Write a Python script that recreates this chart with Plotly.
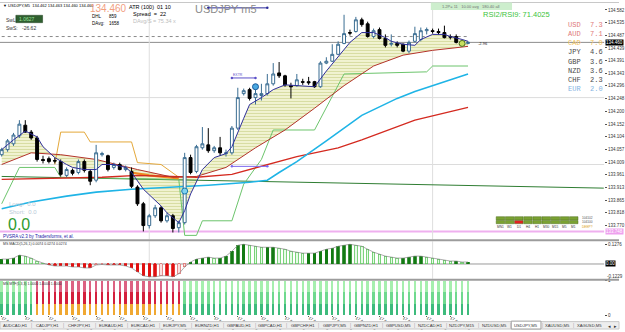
import plotly.graph_objects as go

W, H = 625, 332
def XP(px): return px / W
def YP(py): return 1 - py / H

# ---------------- data ----------------
candle_open = [134.037,134.056,134.078,134.108,134.148,134.122,134.100,134.019,134.022,134.015,
               134.011,133.959,133.978,133.970,134.011,133.974,133.941,134.037,134.033,133.989,
               134.000,133.981,133.974,133.915,133.852,133.770,133.807,133.837,133.788,133.807,
               133.762,133.781,134.026,133.974,134.063,134.074,134.052,134.063,134.041,134.044,
               134.137,134.267,134.282,134.252,134.260,134.267,134.304,134.345,134.334,134.297,
               134.297,134.312,134.312,134.312,134.293,134.382,134.389,134.415,134.456,134.497,
               134.501,134.545,134.530,134.482,134.508,134.475,134.453,134.456,134.453,134.427,
               134.464,134.471,134.504,134.504,134.501,134.497,134.482,134.482,134.460,134.456]
candle_high = [134.063,134.096,134.119,134.167,134.167,134.130,134.108,134.033,134.030,134.026,
               134.019,133.989,133.985,134.019,134.019,133.981,134.074,134.048,134.037,134.007,
               134.007,133.996,133.989,133.922,133.859,133.814,133.848,133.844,133.818,133.814,
               133.788,134.044,134.037,134.074,134.141,134.137,134.070,134.104,134.056,134.145,
               134.289,134.286,134.289,134.286,134.304,134.341,134.382,134.386,134.338,134.308,
               134.341,134.323,134.330,134.315,134.389,134.404,134.453,134.464,134.564,134.508,
               134.556,134.553,134.538,134.512,134.516,134.490,134.490,134.464,134.456,134.467,
               134.519,134.516,134.516,134.512,134.512,134.523,134.490,134.490,134.464,134.464]
candle_low = [134.030,134.048,134.070,134.100,134.119,134.093,134.011,134.004,134.004,134.004,
              133.955,133.952,133.959,133.963,133.970,133.922,133.933,134.030,133.974,133.981,
              133.978,133.974,133.911,133.844,133.748,133.759,133.799,133.781,133.781,133.744,
              133.744,133.774,133.963,133.967,134.056,134.044,134.044,134.033,134.030,134.037,
              134.130,134.260,134.241,134.226,134.241,134.260,134.297,134.326,134.293,134.249,
              134.293,134.300,134.300,134.289,134.289,134.378,134.386,134.412,134.453,134.486,
              134.497,134.519,134.478,134.475,134.471,134.441,134.445,134.441,134.423,134.419,
              134.460,134.464,134.490,134.493,134.490,134.475,134.471,134.456,134.453,134.453]
candle_close = [134.056,134.089,134.111,134.152,134.122,134.100,134.019,134.015,134.011,134.013,
                133.963,133.981,133.967,134.011,133.978,133.937,134.044,134.041,133.981,134.000,
                133.981,133.989,133.918,133.852,133.770,133.807,133.837,133.788,133.807,133.759,
                133.781,134.026,133.970,134.067,134.078,134.052,134.063,134.044,134.044,134.137,
                134.252,134.278,134.249,134.267,134.267,134.304,134.341,134.334,134.300,134.293,
                134.319,134.310,134.308,134.293,134.382,134.389,134.415,134.453,134.493,134.495,
                134.545,134.527,134.482,134.504,134.475,134.449,134.456,134.449,134.427,134.460,
                134.493,134.504,134.508,134.501,134.497,134.478,134.480,134.460,134.456,134.460]
idx = list(range(len(candle_close)))

tick_idx = [0,4,8,12,16,20,24,28,32,36,40,44,48,52,56,60,64,68,72,76]
tick_text = ["17 Apr 2023","17 Apr 13:15","17 Apr 13:35","17 Apr 13:55","17 Apr 14:15",
             "17 Apr 14:35","17 Apr 14:55","17 Apr 15:15","17 Apr 15:35","17 Apr 15:55",
             "17 Apr 16:15","17 Apr 16:35","17 Apr 16:55","17 Apr 17:15","17 Apr 17:35",
             "17 Apr 17:55","17 Apr 18:15","17 Apr 18:35","17 Apr 18:55","17 Apr 19:15"]
price_ticks = [133.770,133.818,133.865,133.913,133.961,134.009,134.057,134.104,134.152,
               134.200,134.248,134.296,134.343,134.391,134.439,134.487,134.535,134.582]

fast_idx = [0,2,4,6,7,9,11,12,14,16,17,19,21,22,24,27,28,30,31,32,34,36,38,39,41,42,44,46,48,50,
            53,55,57,59,61,63,65,66,68,70,71,73,75,76,78,79]
fast_val = [134.056,134.093,134.126,134.104,134.067,134.026,134.000,133.989,133.981,133.981,
            134.000,134.000,133.989,133.970,133.907,133.844,133.818,133.781,133.826,133.889,
            133.981,134.026,134.041,134.067,134.174,134.226,134.252,134.282,134.300,134.297,
            134.293,134.352,134.408,134.460,134.497,134.497,134.478,134.464,134.453,134.449,
            134.471,134.490,134.490,134.482,134.471,134.464]
base_idx = [0,5,10,16,23,29,33,38,43,48,53,58,63,68,73,79]
base_val = [134.000,134.044,134.037,134.019,133.981,133.952,133.955,133.989,134.063,134.130,
            134.212,134.297,134.371,134.412,134.430,134.445]
slow_idx = [0,8,17,23,33,39,45,50,57,61,70,79]
slow_val = [133.944,133.948,133.952,133.959,133.952,133.963,134.000,134.030,134.063,134.093,
            134.167,134.215]
cyan_idx = [0,5,11,16,22,30,35,42,45,47,50,55,61,67,70,79]
cyan_val = [133.833,133.859,133.881,133.896,133.907,133.915,133.922,133.933,133.941,133.970,
            134.011,134.089,134.185,134.249,134.275,134.341]
dgreen_idx = [0,33,70,102]
dgreen_val = [133.955,133.941,133.926,133.911]
lgreen_idx = [0,3,9,10,30,31,33,34,39,41,44,46,53,58,72,73,79]
lgreen_val = [133.852,133.989,133.989,133.952,133.944,133.733,133.733,133.788,133.788,133.926,
              134.019,134.130,134.130,134.341,134.349,134.371,134.371]
orange_idx = [9,10,14,15,22,23,27,30]
orange_val = [134.000,134.122,134.122,134.085,134.085,134.007,134.000,133.952]
orange2_idx = [22,25,30]
orange2_val = [133.970,133.959,133.948]

signal_idx = [31,43,78]
signal_val = [133.900,134.293,134.456]

dotted_level = 134.482
faint_levels = [134.252,134.000]
pink_level = 133.748
segments = [(39,43,134.326,"#5a4fc8"),(39,45,133.993,"#7b68ee"),(35,45,134.590,"#2a2a9a")]
separator_idx = [25,73]

macd = [0.0325,0.0325,0.039,0.0585,0.052,0.039,0.0195,0.0065,-0.0065,-0.013,
        -0.013,-0.013,-0.0195,-0.0195,-0.026,-0.026,-0.0065,-0.0033,-0.0065,-0.0065,
        -0.0065,-0.013,-0.026,-0.052,-0.078,-0.0845,-0.0845,-0.078,-0.078,-0.0845,
        -0.065,-0.0195,0.013,0.0325,0.039,0.0455,0.039,0.039,0.052,0.0845,
        0.1235,0.13,0.1235,0.117,0.1105,0.1105,0.1105,0.104,0.0975,0.0845,
        0.078,0.0715,0.0715,0.0715,0.0845,0.0975,0.104,0.117,0.1235,0.13,
        0.1235,0.117,0.0975,0.078,0.065,0.052,0.0455,0.039,0.039,0.0455,
        0.052,0.052,0.0455,0.039,0.0325,0.026,0.0195,0.0195,0.013,0.013]
stoch_state = ["up"]*6 + ["down"]*25 + ["up"]*49
stoch_seg = [1/3, 1/3, 1/3]

currencies = ["USD","AUD","CAD","JPY","GBP","NZD","CHF","EUR"]
strengths = [7.3,7.1,7.0,4.6,3.6,3.6,2.3,2.0]
cur_colors = ["#e07a7a","#e07a7a","#f2c35a","#4a4a4a","#4a4a4a","#4a4a4a","#4a4a4a","#85b4e2"]
mtf_tf = ["MN1","W1","D1","H4","H1","M30","M15","M5","M1"]
mtf_row1 = ["up"]*9
mtf_row2 = ["up","up","down","up","up","up","up","up","up"]
tabs = ["AUDCAD,H1","CADJPY,H1","CHFJPY,H1","EURAUD,H1","EURCAD,H1","EURJPY,M5","EURNZD,H1",
        "GBPAUD,H1","GBPCAD,H1","GBPCHF,H1","GBPJPY,M5","GBPNZD,H1","GBPUSD,M5","NZDCAD,H1",
        "NZDJPY,M15","NZDUSD,M5","USDJPY,M5","XAUUSD,M5","XAGUSD,M5"]
active_tab = "USDJPY,M5"

# ---------------- figure ----------------
FONT = "Liberation Sans, Arial, sans-serif"
MONO = "Liberation Mono, DejaVu Sans Mono, monospace"
fig = go.Figure()

def line(xs, ys, color, width=1, dash=None, z=0, xa='x', ya='y'):
    fig.add_trace(go.Scatter(x=xs, y=ys, mode='lines', xaxis=xa, yaxis=ya, zorder=z,
                             line=dict(color=color, width=width, dash=dash),
                             hoverinfo='skip', showlegend=False))

# ribbon fill
fig.add_trace(go.Scatter(x=base_idx, y=base_val, mode='lines', line=dict(width=0, color='rgba(0,0,0,0)'),
                         zorder=-2, hoverinfo='skip', showlegend=False))
fig.add_trace(go.Scatter(x=fast_idx, y=fast_val, mode='lines', line=dict(width=0, color='rgba(0,0,0,0)'),
                         fill='tonexty', fillcolor='#eef1c8',
                         fillpattern=dict(shape='-', fgcolor='#bcc46e', bgcolor='#f3f5d6', size=3, solidity=0.4),
                         zorder=-2, hoverinfo='skip', showlegend=False))

line(dgreen_idx, dgreen_val, '#2f7d32', 1, z=-1)
line(lgreen_idx, lgreen_val, '#6cc46c', 1, z=-1)
line(orange_idx, orange_val, '#e4a83a', 1, z=-1)
line(orange2_idx, orange2_val, '#f08a20', 2.2, z=-1)
line(slow_idx, slow_val, '#d42a20', 1.3, z=-1)
line(cyan_idx, cyan_val, '#1fb4e6', 1.6, z=-1)
line(base_idx, base_val, '#b3322a', 1, z=-1)
line(fast_idx, fast_val, '#2e2e9a', 1, z=1)

fig.add_trace(go.Candlestick(x=idx, open=candle_open, high=candle_high, low=candle_low, close=candle_close,
                             increasing=dict(line=dict(color='#3a6d92', width=1), fillcolor='#ffffff'),
                             decreasing=dict(line=dict(color='#000000', width=1), fillcolor='#000000'),
                             whiskerwidth=0, showlegend=False, hoverinfo='skip'))

fig.add_trace(go.Scatter(x=signal_idx, y=signal_val, mode='markers', zorder=2,
                         marker=dict(size=6, color=['#7fd3f0', '#4aa8e0', '#c8e060'],
                                     line=dict(color=['#1a7ab0', '#1a5a9a', '#4a6a20'], width=1)),
                         hoverinfo='skip', showlegend=False))

for (a, b, lvl, col) in segments:
    fig.add_trace(go.Scatter(x=[a, b], y=[lvl, lvl], mode='lines+markers', zorder=2,
                             line=dict(color=col, width=1), marker=dict(size=2.5, color=col),
                             hoverinfo='skip', showlegend=False))

# MACD
macd_colors, macd_lines = [], []
for k, v in enumerate(macd):
    prev = macd[k-1] if k > 0 else v
    if v >= 0:
        if v >= prev:
            macd_colors.append('#137a13'); macd_lines.append('#137a13')
        else:
            macd_colors.append('#e8fbe8'); macd_lines.append('#5cc85c')
    else:
        if v <= prev:
            macd_colors.append('#e01010'); macd_lines.append('#e01010')
        else:
            macd_colors.append('#fbe0e0'); macd_lines.append('#e07070')
fig.add_trace(go.Bar(x=idx, y=macd, xaxis='x2', yaxis='y2', width=0.42,
                     marker=dict(color=macd_colors, line=dict(color=macd_lines, width=0.8)),
                     hoverinfo='skip', showlegend=False))
line(idx, macd, '#8a8a8a', 0.7, xa='x2', ya='y2')

# MTF stoch bars
seg_cols = {"up": ['#3dbb7c', '#6fd98e', '#a6efae'], "down": ['#f0a832', '#d41f3c', '#dc6282']}
for s in range(3):
    fig.add_trace(go.Bar(x=idx, y=[stoch_seg[s]] * len(idx), xaxis='x3', yaxis='y3', width=0.42,
                         marker=dict(color=[seg_cols[st][s] for st in stoch_state], line=dict(width=0)),
                         hoverinfo='skip', showlegend=False))

xr = [-0.285, 102.06]
xdom = [0, XP(610)]
axis_common = dict(showgrid=False, zeroline=False, fixedrange=True)
fig.update_layout(
    width=W, height=H, margin=dict(l=0, r=0, t=0, b=0),
    paper_bgcolor='white', plot_bgcolor='white', showlegend=False,
    barmode='stack', font=dict(family=FONT, size=5, color='black'),
    xaxis=dict(domain=xdom, range=xr, anchor='y', showticklabels=False,
               rangeslider=dict(visible=False), **axis_common),
    xaxis2=dict(domain=xdom, range=xr, anchor='y2', showticklabels=False, **axis_common),
    xaxis3=dict(domain=xdom, range=xr, anchor='y3', tickvals=tick_idx, ticktext=tick_text,
                ticklabelposition='outside right', tickfont=dict(size=4, family=FONT),
                ticks='outside', ticklen=1, tickcolor='#555', ticklabelstandoff=-2, **axis_common),
    yaxis=dict(domain=[YP(241), YP(2)], range=[133.718, 134.6047], side='right', anchor='x',
               tickvals=price_ticks, tickformat='.3f', tickfont=dict(size=4.5, color='#333'),
               ticks='outside', ticklen=2, tickcolor='#555', showline=True, linecolor='#8a8a8a',
               linewidth=1, **axis_common),
    yaxis2=dict(domain=[YP(281), YP(243)], range=[-0.0975, 0.1495], side='right', anchor='x2',
                tickvals=[0.1276], ticktext=['0.1276'], tickfont=dict(size=4.5, color='#333'),
                ticks='outside', ticklen=2, showline=True, linecolor='#8a8a8a', linewidth=1, **axis_common),
    yaxis3=dict(domain=[YP(318), YP(283)], range=[0, 1], side='right', anchor='x3',
                tickvals=[0, 1], ticktext=['0', '1'], tickfont=dict(size=4.5, color='#333'),
                ticks='outside', ticklen=2, showline=True, linecolor='#8a8a8a', linewidth=1, **axis_common),
)

shapes = []
shapes.append(dict(type='line', xref='x', yref='y', x0=idx[0], x1=idx[-1], y0=dotted_level, y1=dotted_level,
                   line=dict(color='#8a8a8a', width=1, dash='dot'), layer='below'))
for lv in faint_levels:
    shapes.append(dict(type='line', xref='paper', yref='y', x0=0, x1=xdom[1], y0=lv, y1=lv,
                       line=dict(color='#dcdcdc', width=1), layer='below'))
shapes.append(dict(type='line', xref='paper', yref='y', x0=0, x1=xdom[1], y0=candle_close[-1], y1=candle_close[-1],
                   line=dict(color='#8c8c8c', width=1), layer='below'))
shapes.append(dict(type='line', xref='paper', yref='y', x0=0, x1=xdom[1], y0=pink_level, y1=pink_level,
                   line=dict(color='#efb0ef', width=2), layer='below'))
for sx in separator_idx:
    for ya in ['y', 'y2', 'y3']:
        shapes.append(dict(type='line', xref='x', yref=ya + ' domain', x0=sx, x1=sx, y0=0, y1=1,
                           line=dict(color='#dedede', width=1), layer='below'))
shapes.append(dict(type='line', xref='paper', yref='y2', x0=0, x1=xdom[1], y0=0, y1=0,
                   line=dict(color='#9a9a9a', width=1), layer='below'))
for py in [242, 282]:
    shapes.append(dict(type='line', xref='paper', yref='paper', x0=0, x1=1, y0=YP(py), y1=YP(py),
                       line=dict(color='#9c9c9c', width=2)))
shapes.append(dict(type='line', xref='paper', yref='paper', x0=0, x1=1, y0=YP(0.5), y1=YP(0.5),
                   line=dict(color='#c8c8c8', width=1)))
shapes.append(dict(type='rect', xref='paper', yref='paper', x0=0, x1=1, y0=YP(332), y1=YP(324.5),
                   fillcolor='#eeeeee', line=dict(color='#c8c8c8', width=1)))
tab_w = 32.2
ai = tabs.index(active_tab)
shapes.append(dict(type='rect', xref='paper', yref='paper', x0=XP(16 + tab_w*ai - 15), x1=XP(16 + tab_w*ai + 15),
                   y0=YP(332), y1=YP(324), fillcolor='#ffffff', line=dict(color='#a0a0a0', width=1)))
shapes.append(dict(type='rect', xref='paper', yref='paper', x0=XP(435), x1=XP(517), y0=YP(8), y1=YP(0.5),
                   fillcolor='#cdeecd', line=dict(width=0)))
shapes.append(dict(type='rect', xref='paper', yref='paper', x0=XP(16), x1=XP(43), y0=YP(21), y1=YP(13.5),
                   fillcolor='#2f5f2f', line=dict(color='#1a3a1a', width=0.5)))
for r, row in enumerate([mtf_row1, mtf_row2]):
    for c, st in enumerate(row):
        x0 = 501 + c * 9.25
        y0 = 218 + r * 3.8
        shapes.append(dict(type='rect', xref='paper', yref='paper', x0=XP(x0), x1=XP(x0 + 8.6),
                           y0=YP(y0 + 3.3), y1=YP(y0), fillcolor='#7aa232' if st == 'up' else '#e42020',
                           line=dict(color='#4e6e1e', width=0.5)))
fig.update_layout(shapes=shapes)

ann = []
def txt(x, y, s, size=5, color='black', anchor='left', family=FONT, bg=None, xref='paper', yref='paper'):
    d = dict(x=x, y=y, xref=xref, yref=yref, text=s, showarrow=False, xanchor=anchor, yanchor='middle',
             font=dict(size=size, color=color, family=family), borderpad=0)
    if bg:
        d['bgcolor'] = bg
    ann.append(d)

txt(XP(2), YP(4), "▼ USDJPY,M5  134.462 134.463 134.460 134.460", 4)
txt(XP(90), YP(6.5), f"{candle_close[-1]:.3f}", 10, '#f2a080')
txt(XP(92), YP(15), "DHL", 4.5); txt(XP(109), YP(15), "859", 4.5)
txt(XP(92), YP(22), "DAvg:", 4.5); txt(XP(109), YP(22), "1658", 4.5)
txt(XP(129), YP(5), "ATR (100)", 5.5); txt(XP(158), YP(5), "01 10", 5.5)
txt(XP(133), YP(12.5), "Spread  =  22", 5.5)
txt(XP(133), YP(19.5), "DAvg/S = 75.34 x", 5.5, '#bdbdbd')
txt(XP(196), YP(7), "USDJPY m5", 11, '#8c8c8c')
txt(XP(5), YP(18.5), "SwL:", 5, '#333')
txt(XP(18), YP(17.5), "1.0627", 5, '#9be09b')
txt(XP(5), YP(26), "SwS:", 5, '#333'); txt(XP(21), YP(26), "-26.62", 5, '#333')
txt(XP(476), YP(4.5), "1.2P= 11   10.00 avg   180.40 all", 4, '#707070', 'center')
txt(XP(487), YP(13), "RSI2/RSI9: 71.4025", 7.5, '#3cc43c')
for k, (cname, sval, col) in enumerate(zip(currencies, strengths, cur_colors)):
    yy = 23 + k * 9.4
    txt(XP(572), YP(yy), cname, 7, col, family=MONO)
    txt(XP(595), YP(yy), f"{sval:.1f}", 7, col, family=MONO)
txt(XP(8), YP(205), "Long:  0.0", 6, '#b8cad8')
txt(XP(8), YP(213), "Short:  0.0", 6, '#b8cad8')
txt(XP(7), YP(225.5), "0.0", 16, '#2e9a2e')
txt(XP(2), YP(238.5), "PVSRA v2.3 by Tradersforms, et al.", 4.5, '#2323a8')
txt(XP(2), YP(246), "MS MACD(5,26,1) 0.0074 0.0274 0.0274", 3.5, '#333')
txt(XP(2), YP(286), "MS MTF(5,3,3) 1.0000 1.0000 1.0000", 3.5, '#333')
txt(idx[39], segments[0][2] + 0.012, "EXTR", 3.5, '#5a4fc8', xref='x', yref='y')
txt(idx[-1] + 1.5, candle_close[-1] - 0.005, "-2.96", 4, '#222', xref='x', yref='y')
for c, tf in enumerate(mtf_tf):
    txt(XP(501 + c * 9.25 + 4.3), YP(228.5), tf, 3.2, '#333', 'center')
txt(XP(587), YP(219.5), "104102", 3.2, '#555'); txt(XP(587), YP(223.5), "104100", 3.2, '#555')
txt(XP(587), YP(228.5), "DEEP?", 3.2, '#d9a020')
txt(XP(610.5), candle_close[-1], f"{candle_close[-1]:.3f}", 4.5, 'white', bg='#000000', yref='y')
txt(XP(610.5), pink_level, f"{pink_level:.3f}", 4.5, 'white', bg='#eea0ee', yref='y')
txt(XP(610.5), 0, "0.00", 4.5, 'white', bg='#000000', yref='y2')
txt(XP(612), YP(279), "-0.1229", 4.5, '#333')
for k, t in enumerate(tabs):
    cx = 16 + tab_w * k
    txt(XP(cx), YP(328.5), t, 4.2, '#333', 'center')
    if k < len(tabs) - 1:
        txt(XP(cx + tab_w / 2), YP(328.5), "|", 4.5, '#999', 'center')
txt(XP(615), YP(328.5), "◂", 5, '#333', 'center'); txt(XP(621), YP(328.5), "▸", 5, '#333', 'center')
fig.update_layout(annotations=ann)

fig.write_html("out.html", config={'displayModeBar': False})
